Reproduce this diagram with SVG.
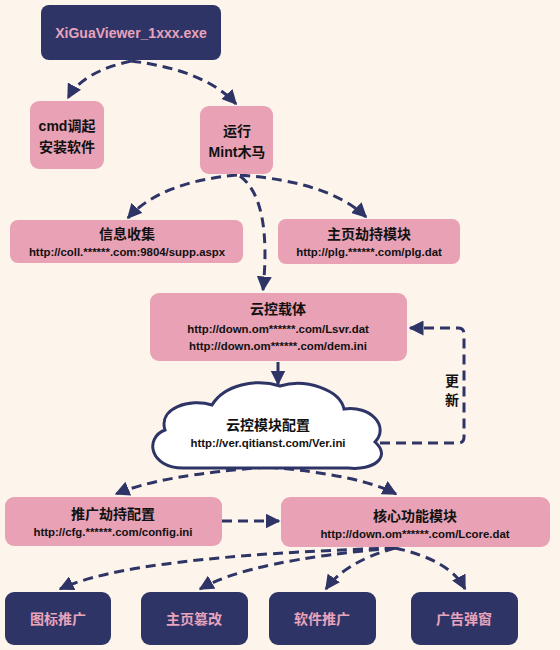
<svg xmlns="http://www.w3.org/2000/svg" width="560" height="650" viewBox="0 0 560 650">
<defs>
<marker id="ah" viewBox="0 0 10 10" refX="9" refY="5" markerWidth="15" markerHeight="15" markerUnits="userSpaceOnUse" orient="auto">
<path d="M0,0 L10,5 L0,10 Z" fill="#2e3566"/>
</marker>
<style>
.dark{fill:#2e3566}
.pink{fill:#e8a1b5}
.t{font-family:"Liberation Sans","Noto Sans CJK SC",sans-serif;font-weight:bold;text-anchor:middle;fill:#111}
.h{font-size:14px}
.u{font-size:11.4px}
.lt{fill:#e8a3bd;font-size:14px}
.c{fill:none;stroke:#2e3566;stroke-width:3;stroke-dasharray:10,6}
</style>
</defs>
<rect width="560" height="650" fill="#fdf5ec"/>
<g id="connectors">
<path class="c" d="M131,61 Q82,72 68,98" marker-end="url(#ah)"/>
<path class="c" d="M131,61 Q205,70 236,104" marker-end="url(#ah)"/>
<path class="c" d="M237,175 Q160,182 128,218" marker-end="url(#ah)"/>
<path class="c" d="M240,175 Q330,182 366,217" marker-end="url(#ah)"/>
<path class="c" d="M240,176 Q272,200 263,290" marker-end="url(#ah)"/>
<path d="M278,362 L278,384" stroke="#2e3566" stroke-width="3" fill="none" marker-end="url(#ah)"/>
<path class="c" d="M380,443 L458,443 Q464,443 464,437 L464,334 Q464,328 458,328 L410,328" marker-end="url(#ah)"/>
<path class="c" d="M268,467 Q160,475 116,494" marker-end="url(#ah)"/>
<path class="c" d="M268,467 Q360,475 396,494" marker-end="url(#ah)"/>
<path class="c" d="M222,521 L279,521" marker-end="url(#ah)"/>
<path class="c" d="M395,548 Q130,556 60,589" marker-end="url(#ah)"/>
<path class="c" d="M395,548 Q250,560 200,589" marker-end="url(#ah)"/>
<path class="c" d="M395,548 Q345,562 326,589" marker-end="url(#ah)"/>
<path class="c" d="M395,548 Q450,560 465,589" marker-end="url(#ah)"/>
<text class="t h" x="452" y="386">更</text>
<text class="t h" x="452" y="405">新</text>
</g>
<g id="n-exe"><rect class="dark" x="41" y="5" width="180" height="55" rx="8"/><text class="t lt" x="131" y="38">XiGuaViewer_1xxx.exe</text></g>
<g id="n-cmd"><rect class="pink" x="30" y="101" width="74" height="68" rx="9"/><text class="t h" x="67" y="131">cmd调起</text><text class="t h" x="67" y="152">安装软件</text></g>
<g id="n-mint"><rect class="pink" x="200" y="106" width="73" height="68" rx="9"/><text class="t h" x="237" y="136">运行</text><text class="t h" x="237" y="157">Mint木马</text></g>
<g id="n-info"><rect class="pink" x="10" y="220" width="233" height="43" rx="8"/><text class="t h" x="127" y="239">信息收集</text><text class="t u" x="127" y="256">http://coll.******.com:9804/supp.aspx</text></g>
<g id="n-home"><rect class="pink" x="278" y="219" width="182" height="45" rx="8"/><text class="t h" x="369" y="239">主页劫持模块</text><text class="t u" x="369" y="256">http://plg.******.com/plg.dat</text></g>
<g id="n-cloudhost"><rect class="pink" x="150" y="293" width="257" height="68" rx="9"/><text class="t h" x="278" y="314">云控载体</text><text class="t u" x="278" y="333">http://down.om******.com/Lsvr.dat</text><text class="t u" x="278" y="350">http://down.om******.com/dem.ini</text></g>
<g id="n-cloudcfg"><path d="M183,468 C150,468 144,438 165,430 C158,408 190,398 212,405 C224,385 256,378 280,386 C306,378 340,390 344,409 C370,405 390,426 375,442 C392,457 373,471 348,468 Z" fill="#ffffff" stroke="#2e3566" stroke-width="3"/><text class="t h" x="268" y="430">云控模块配置</text><text class="t u" x="268" y="447">http://ver.qitianst.com/Ver.ini</text></g>
<g id="n-promo"><rect class="pink" x="5" y="497" width="217" height="49" rx="9"/><text class="t h" x="113" y="519">推广劫持配置</text><text class="t u" x="113" y="536">http://cfg.******.com/config.ini</text></g>
<g id="n-core"><rect class="pink" x="281" y="497" width="269" height="50" rx="9"/><text class="t h" x="415" y="521">核心功能模块</text><text class="t u" x="415" y="538">http://down.om******.com/Lcore.dat</text></g>
<g id="n-icon"><rect class="dark" x="5" y="592" width="106" height="53" rx="9"/><text class="t lt" x="58" y="624">图标推广</text></g>
<g id="n-tamper"><rect class="dark" x="141" y="592" width="107" height="53" rx="9"/><text class="t lt" x="194" y="624">主页篡改</text></g>
<g id="n-soft"><rect class="dark" x="269" y="592" width="107" height="53" rx="9"/><text class="t lt" x="322" y="624">软件推广</text></g>
<g id="n-ad"><rect class="dark" x="411" y="592" width="107" height="53" rx="9"/><text class="t lt" x="464" y="624">广告弹窗</text></g>
</svg>
